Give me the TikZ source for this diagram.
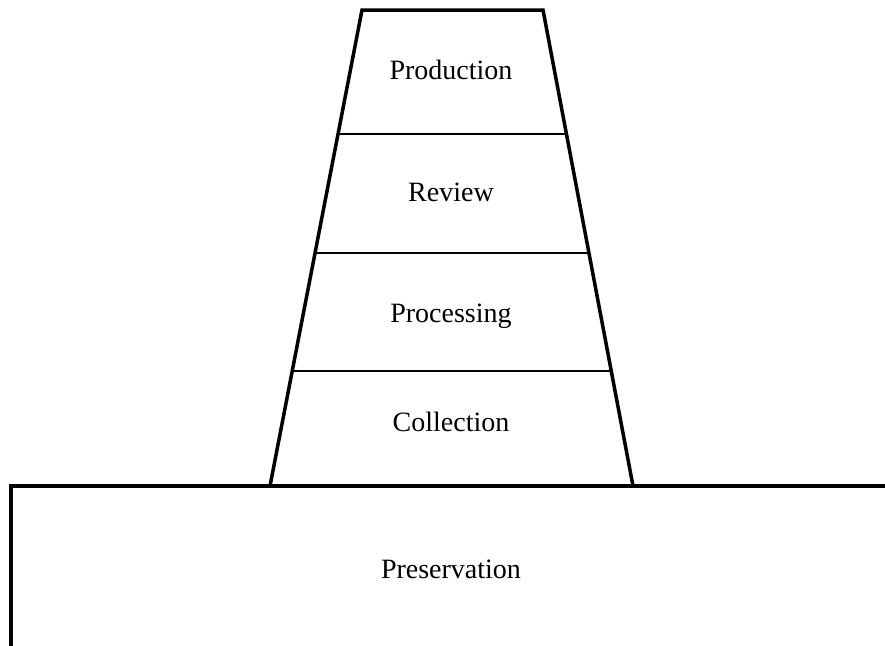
\documentclass[tikz,border=0pt]{standalone}
\usepackage{fontspec}
\setmainfont{Liberation Serif}
\begin{document}
\begin{tikzpicture}[x=1pt,y=-1pt,
  thickline/.style={line width=3.5pt,line join=miter},
  thinline/.style={line width=1.3pt},
  lbl/.style={font=\fontsize{28}{32}\selectfont,anchor=base,inner sep=0pt}]
\useasboundingbox (0,0) rectangle (885,645);
% coordinates of the trapezoid
\coordinate (tl) at (362,10);
\coordinate (tr) at (543,10);
\coordinate (bl) at (270,486);
\coordinate (br) at (633,486);
% divider lines
\coordinate (d1l) at (338,134); \coordinate (d1r) at (565,134);
\coordinate (d2l) at (315,253); \coordinate (d2r) at (589,253);
\coordinate (d3l) at (293,371); \coordinate (d3r) at (611,371);
\draw[thinline] (d1l) -- (d1r);
\draw[thinline] (d2l) -- (d2r);
\draw[thinline] (d3l) -- (d3r);
\draw[thickline] (bl) -- (tl) -- (tr) -- (br);
% base
\coordinate (gl) at (11,486);
\coordinate (gr) at (886,486);
\coordinate (gb) at (11,646);
\draw[thickline] (gb) -- (gl) -- (gr);
% labels
\node[lbl] (prod) at (451,79) {Production};
\node[lbl] (rev) at (451,201) {Review};
\node[lbl] (proc) at (451,322) {Processing};
\node[lbl] (coll) at (451,431) {Collection};
\node[lbl] (pres) at (451,578) {Preservation};
\end{tikzpicture}
\end{document}
